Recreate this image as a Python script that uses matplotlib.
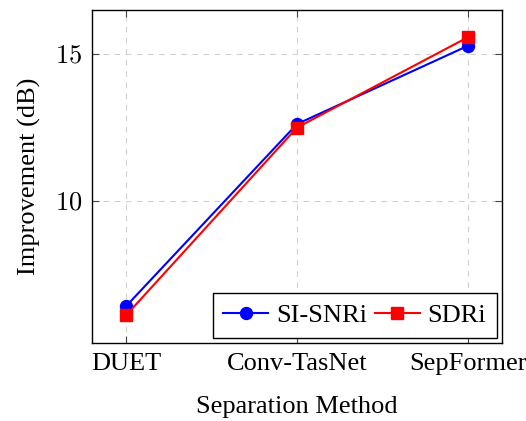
import matplotlib
matplotlib.use("Agg")
import matplotlib.pyplot as plt
from matplotlib.ticker import FuncFormatter, FixedLocator

methods = ["DUET", "Conv-TasNet", "SepFormer"]
si_snri = [6.43, 12.62, 15.28]
sdri = [6.12, 12.50, 15.57]
yticks = [10, 15]

plt.rcParams["font.family"] = ["Liberation Serif", "DejaVu Serif"]
plt.rcParams["mathtext.fontset"] = "cm"
FS = 19

fig = plt.figure(figsize=(5.26, 4.21), dpi=100)
ax = fig.add_axes([92 / 526, 1 - 343 / 421, (502 - 92) / 526, (343 - 9.5) / 421])

x = list(range(len(methods)))
ax.plot(x, si_snri, color="#0000ff", lw=1.5, marker="o", ms=8.6, label="SI-SNRi", zorder=3)
ax.plot(x, sdri, color="#ff0000", lw=1.5, marker="s", ms=8.6, label="SDRi", zorder=4)

allv = si_snri + sdri
lo, hi = min(allv), max(allv)
rng = hi - lo
ax.set_ylim(lo - 0.1 * rng, hi + 0.1 * rng)
ax.set_xlim(-0.2, 2.2)

ax.xaxis.set_major_locator(FixedLocator(x))
ax.set_xticklabels(methods, fontsize=FS)
ax.yaxis.set_major_locator(FixedLocator(yticks))
ax.yaxis.set_major_formatter(FuncFormatter(lambda v, p: f"${v:g}$"))
ax.tick_params(axis="y", labelsize=FS)

ax.tick_params(direction="in", length=5, width=0.8, color="#444444",
               top=True, right=True, pad=7)
ax.grid(True, color="#d0d0d0", linestyle=(0, (5, 5)), lw=0.8)
ax.set_axisbelow(True)
for s in ax.spines.values():
    s.set_linewidth(1.0)
    s.set_color("black")

ax.set_xlabel("Separation Method", fontsize=FS, labelpad=15)
ax.set_ylabel("Improvement (dB)", fontsize=FS, labelpad=10)

leg = ax.legend(loc="lower right", ncol=2, fontsize=FS, fancybox=False,
                edgecolor="black", framealpha=1, handlelength=1.7,
                handletextpad=0.3, columnspacing=0.3, borderpad=0.4,
                borderaxespad=0.2, numpoints=1)
leg.get_frame().set_linewidth(1.0)

fig.savefig("out.png", dpi=100)
